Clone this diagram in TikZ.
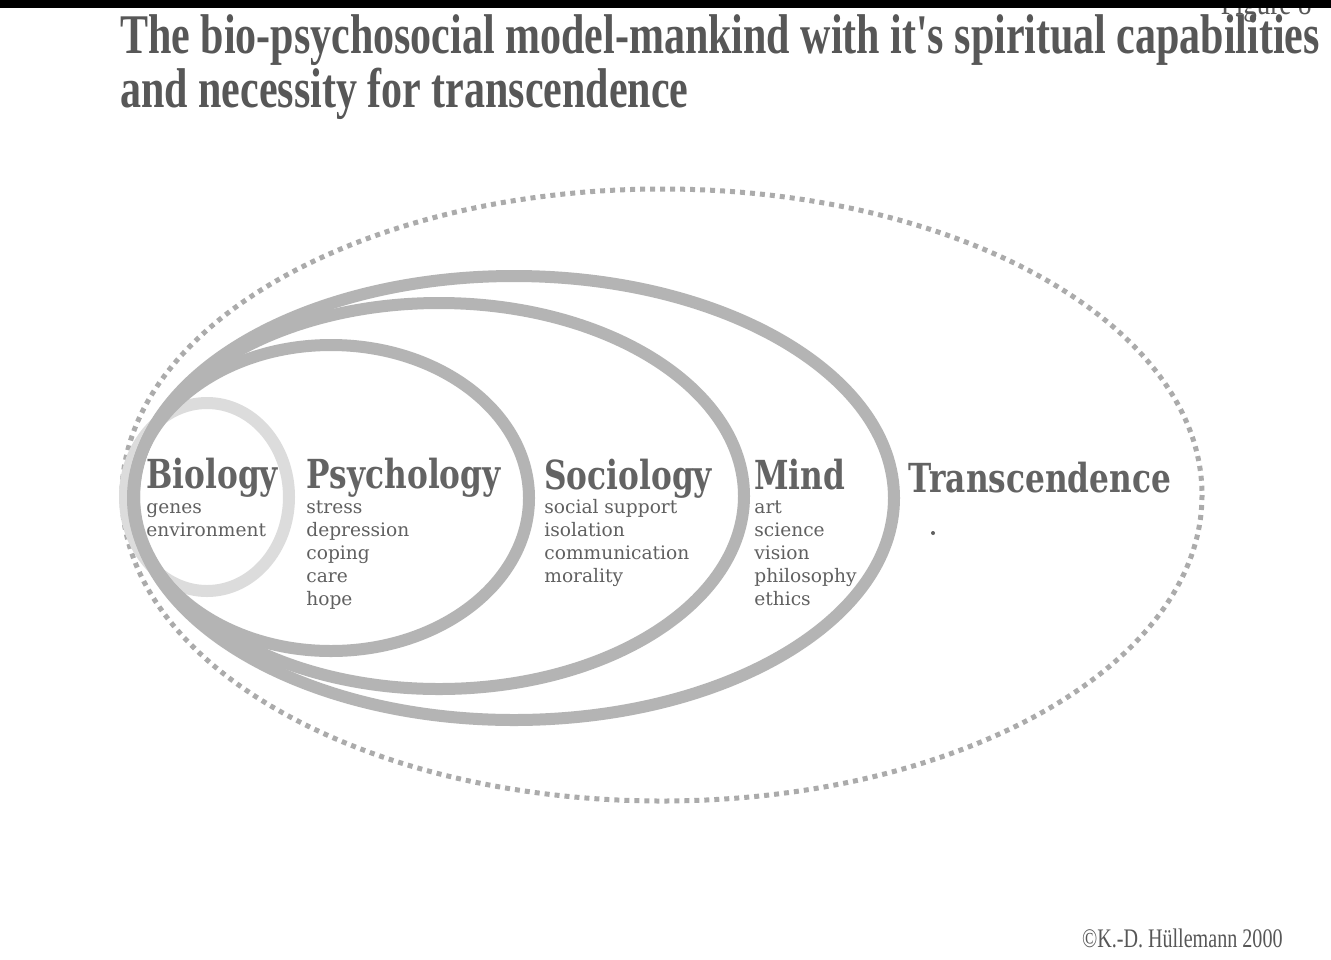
\documentclass[tikz,border=0pt]{standalone}
\usepackage{fontspec}
\setmainfont{DejaVu Serif}
\newfontfamily\titlefont[FakeStretch=0.75]{Liberation Serif}
\newfontfamily\headfont[FakeStretch=0.78]{DejaVu Serif}
\usetikzlibrary{positioning}

\definecolor{ringgray}{HTML}{B4B4B4}
\definecolor{biogray}{HTML}{DCDCDC}
\definecolor{dotgray}{HTML}{ABABAB}
\definecolor{headgray}{HTML}{636363}
\definecolor{textgray}{HTML}{606060}
\definecolor{titlegray}{HTML}{575757}

\tikzset{
  ring/.style={draw=ringgray,line width=6pt},
  dotring/.style={draw=dotgray,line width=2.5pt,dash pattern=on 2.5pt off 2.5pt},
  heading/.style={anchor=base west,inner sep=0pt,text=headgray,font=\headfont\bfseries\fontsize{20}{20}\selectfont},
  itemlist/.style={anchor=base west,inner sep=0pt,align=left,text=textgray,font=\fontsize{9.3}{11.5}\selectfont},
}

\begin{document}
\begin{tikzpicture}[x=0.5pt,y=-0.5pt]
\useasboundingbox[fill=white] (0,0) rectangle (1331,959);

% title (base = last line)
\node[anchor=base west,inner sep=0pt,align=left,text=titlegray,font=\titlefont\bfseries\fontsize{28}{24.5}\selectfont] (title) at (120,107)
  {The bio-psychosocial model-mankind with it's spiritual capabilities\\and necessity for transcendence};
\node[anchor=base east,inner sep=0pt,text=titlegray,font=\titlefont\fontsize{18}{18}\selectfont] (fig) at (1312,14) {Figure 8};
\fill[black] (0,0) rectangle (1331,8);

% the rings
\draw[dotring] (662,495) ellipse [x radius=540,y radius=306];
\draw[draw=biogray,line width=6pt] (207,497) ellipse [x radius=82,y radius=94];
\draw[ring] (514,498) ellipse [x radius=380,y radius=222];
\draw[ring] (439,496) ellipse [x radius=305,y radius=193];
\draw[ring] (331,498) ellipse [x radius=198,y radius=153];

% labels
\node[heading] (bio) at (146,488) {Biology};
\node[itemlist] (bioitems) at (146,536) {genes\\environment};
\node[heading] (psy) at (306,488) {Psychology};
\node[itemlist] (psyitems) at (306,605) {stress\\depression\\coping\\care\\hope};
\node[heading] (soc) at (544,489) {Sociology};
\node[itemlist] (socitems) at (544,582) {social support\\isolation\\communication\\morality};
\node[heading] (mind) at (754,489) {Mind};
\node[itemlist] (minditems) at (754,605) {art\\science\\vision\\philosophy\\ethics};
\node[heading] (trans) at (908,492) {Transcendence};
\fill[textgray] (933,533) circle (1pt);

% credit
\node[anchor=base east,inner sep=0pt,text=titlegray,font=\titlefont\fontsize{13.4}{14}\selectfont] (credit) at (1283,947) {©K.-D. Hüllemann 2000};
\end{tikzpicture}
\end{document}
